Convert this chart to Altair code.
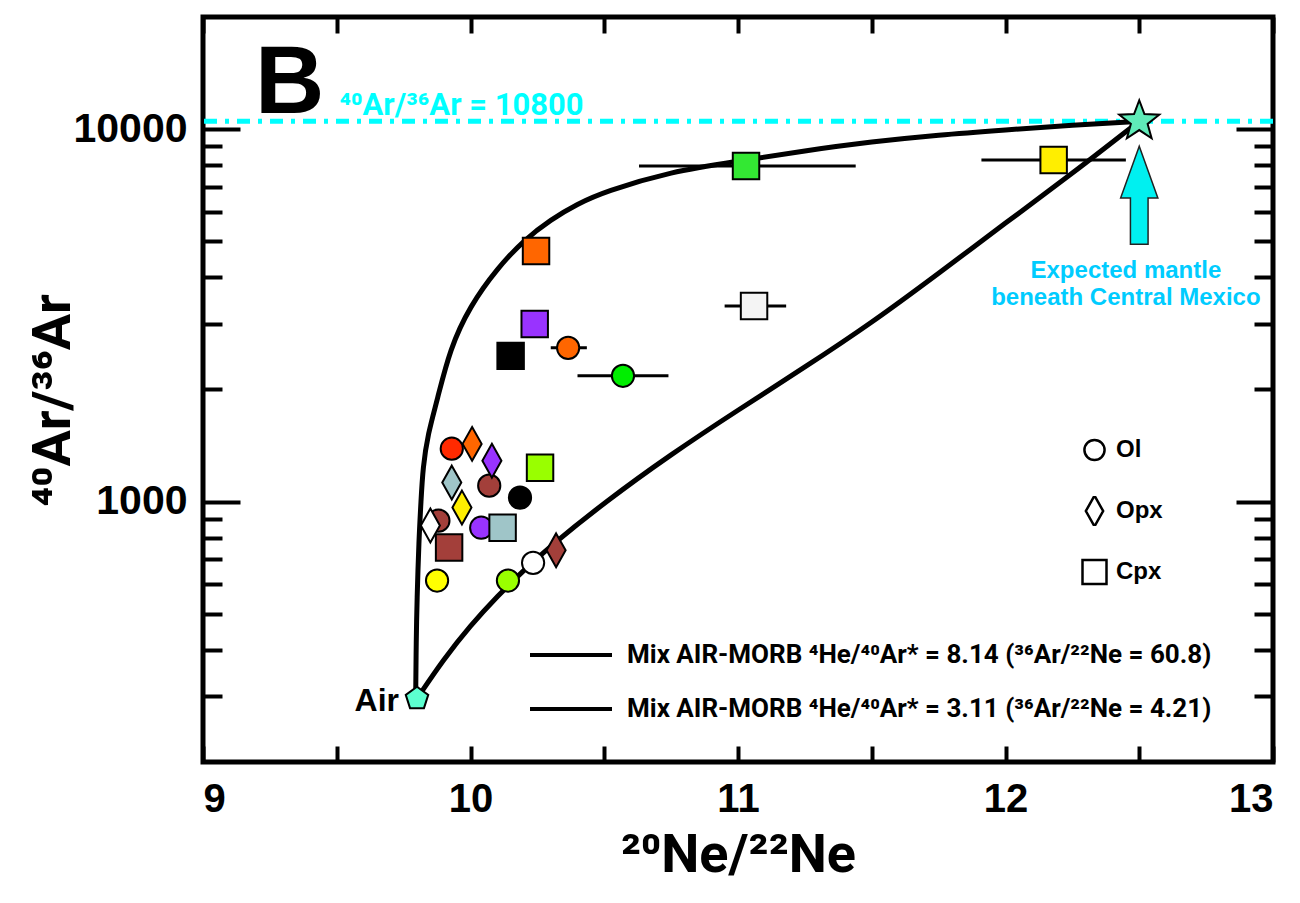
import altair as alt
import pandas as pd

W, H = 1070, 745
F = "Liberation Sans"
F2 = "Roboto"

# ---------------- data ----------------
circle_x = [9.93, 10.07, 10.185, 9.88, 10.04, 9.875, 10.14, 10.234, 10.365, 10.57]
circle_y = [1387, 1104, 1025, 889, 851, 614, 614, 685, 2587, 2177]
circle_fill = ["#FF2A00", "#A33F3A", "#000000", "#A33F3A", "#9933FF",
               "#FFFF00", "#99FF00", "#FFFFFF", "#FF6600", "#00EE00"]

diamond_x = [10.006, 10.08, 9.93, 9.968, 9.85, 10.32]
diamond_y = [1429, 1288, 1125, 964, 863, 740]
diamond_fill = ["#FF6600", "#9933FF", "#9FC5C8", "#FFEE00", "#FFFFFF", "#A33F3A"]

square_x = [10.26, 10.12, 9.92, 10.245, 10.24, 10.15, 11.03, 12.18, 11.06]
square_y = [1233, 851, 753, 4710, 3000, 2462, 7960, 8262, 3353]
square_fill = ["#99FF00", "#9FC5C8", "#A33F3A", "#FF6600", "#9933FF",
               "#000000", "#33E833", "#FFEE00", "#F4F4F4"]

err_lo = [10.63, 11.91, 10.95, 10.40, 10.30]
err_hi = [11.44, 12.45, 11.18, 10.74, 10.435]
err_y = [7960, 8262, 3353, 2177, 2587]

up_x = [9.795, 9.797, 9.800, 9.807, 9.815, 9.822, 9.841, 9.875, 9.923, 9.998,
        10.1, 10.2, 10.3, 10.4, 10.5, 10.75, 11.0, 11.25, 11.5, 11.75,
        12.0, 12.25, 12.5]
up_y = [296, 424, 543, 786, 1006, 1234, 1522, 1866, 2572, 3350,
        4230, 5040, 5720, 6300, 6790, 7700, 8200, 8750, 9250, 9650,
        9950, 10250, 10500]

lo_x = [9.80, 9.9, 10.0, 10.1, 10.2, 10.3, 10.5, 10.75, 11.0, 11.25, 11.5,
        11.75, 12.0, 12.25, 12.5]
lo_y = [296, 378, 465, 557, 655, 761, 994, 1341, 1762, 2295, 3020,
        4100, 5600, 7600, 10500]

curve_labels = ["Mix AIR-MORB ⁴He/⁴⁰Ar* = 8.14 (³⁶Ar/²²Ne = 60.8)",
                "Mix AIR-MORB ⁴He/⁴⁰Ar* = 3.11 (³⁶Ar/²²Ne = 4.21)"]

minerals = ["Ol", "Opx", "Cpx"]

air_x, air_y = [9.80], [296]
mantle_x, mantle_y = [12.5], [10500]
ratio_line = [10500]
arrow_x, arrow_y = [12.5], [6650]

x_label_vals = [9, 10, 11, 12, 13]
x_tick_vals = [9, 9.5, 10, 10.5, 11, 11.5, 12, 12.5, 13]
y_label_vals = [1000, 10000]
y_tick_vals = [300, 400, 500, 600, 700, 800, 900, 1000,
               2000, 3000, 4000, 5000, 6000, 7000, 8000, 9000, 10000]

# ---------------- tables ----------------
pts = pd.DataFrame({
    "x": circle_x + diamond_x + square_x,
    "y": circle_y + diamond_y + square_y,
    "fill": circle_fill + diamond_fill + square_fill,
    "mineral": ["Ol"] * len(circle_x) + ["Opx"] * len(diamond_x) + ["Cpx"] * len(square_x),
})
errs = pd.DataFrame({"lo": err_lo, "hi": err_hi, "y": err_y})
curves = pd.DataFrame({
    "x": up_x + lo_x,
    "y": up_y + lo_y,
    "curve": [curve_labels[0]] * len(up_x) + [curve_labels[1]] * len(lo_x),
    "i": list(range(len(up_x))) + list(range(len(lo_x))),
})

CIRCLE = "M0.84,0A0.84,0.84,0,1,1,-0.84,0A0.84,0.84,0,1,1,0.84,0Z"
DIAMOND = "M0,-1.28L0.72,0L0,1.28L-0.72,0Z"
PENTAGON = "M0,-1L0.951,-0.309L0.588,0.809L-0.588,0.809L-0.951,-0.309Z"
STAR = ("M0,-1L0.247,-0.34L0.951,-0.309L0.399,0.13L0.588,0.809L0,0.42"
        "L-0.588,0.809L-0.399,0.13L-0.951,-0.309L-0.247,-0.34Z")
ARROW = "M0,-1L0.38,0.06L0.18,0.06L0.18,1L-0.18,1L-0.18,0.06L-0.38,0.06Z"

xs = alt.Scale(domain=[9, 13], zero=False, nice=False)
ys = alt.Scale(type="log", domain=[200, 20000], nice=False)

major = "datum.value == 1000 || datum.value == 10000"
ysize = {"condition": {"test": major, "value": 37}, "value": 19}

tick_common = dict(labels=False, domain=False, grid=False, ticks=True,
                   tickColor="black", tickWidth=4, title=None)

ax_x_lab = alt.Axis(orient="bottom", values=x_label_vals, format="d", ticks=False,
                    domain=False, grid=False, labelFont=F, labelFontWeight="bold",
                    labelFontSize=40, labelColor="black", labelPadding=17,
                    title="²⁰Ne/²²Ne", titleFont=F2, titleFontWeight="bold",
                    titleFontSize=54, titleColor="black", titleX=535, titleY=93,
                    titleAlign="center", titleBaseline="middle")
ax_y_lab = alt.Axis(orient="left", values=y_label_vals, format="d", ticks=False,
                    domain=False, grid=False, labelFont=F, labelFontWeight="bold",
                    labelFontSize=41, labelColor="black", labelPadding=16,
                    title="⁴⁰Ar/³⁶Ar", titleFont=F2, titleFontWeight="bold",
                    titleFontSize=54, titleColor="black", titleX=-150, titleY=383,
                    titleAngle=270, titleAlign="center", titleBaseline="middle")
ax_x_bot_ticks = alt.Axis(orient="top", offset=-H, values=x_tick_vals, tickSize=16, **tick_common)
ax_x_top_ticks = alt.Axis(orient="bottom", offset=-H, values=x_tick_vals, tickSize=16, **tick_common)
ax_y_left_ticks = alt.Axis(orient="right", offset=-W, values=y_tick_vals, tickSize=ysize, **tick_common)
ax_y_right_ticks = alt.Axis(orient="left", offset=-W, values=y_tick_vals, tickSize=ysize, **tick_common)

# ---------------- layers ----------------
cyan_line = alt.Chart(pd.DataFrame({"y": ratio_line})).mark_rule(
    color="#00FFFF", strokeWidth=5, strokeDash=[13, 8, 4, 8]
).encode(y=alt.Y("y:Q", scale=ys, axis=None))

curve_layer = alt.Chart(curves).mark_line(strokeWidth=5, interpolate="basis").encode(
    x=alt.X("x:Q", scale=xs, axis=ax_x_bot_ticks),
    y=alt.Y("y:Q", scale=ys, axis=ax_y_left_ticks),
    order=alt.Order("i:Q"),
    stroke=alt.Stroke("curve:N", scale=alt.Scale(domain=curve_labels, range=["black", "black"]),
                      legend=alt.Legend(orient="none", legendX=325, legendY=627, title=None,
                                        symbolType="stroke", symbolSize=6724,
                                        symbolStrokeWidth=4, symbolStrokeColor="black",
                                        clipHeight=22,
                                        labelFont=F2, labelFontWeight="bold", labelFontSize=26,
                                        labelColor="black", labelLimit=900, labelOffset=13,
                                        rowPadding=28)),
)

err_layer = alt.Chart(errs).mark_rule(color="black", strokeWidth=3).encode(
    x=alt.X("lo:Q", scale=xs, axis=ax_x_top_ticks),
    x2="hi:Q",
    y=alt.Y("y:Q", scale=ys, axis=ax_y_right_ticks),
)

pt_layer = alt.Chart(pts).mark_point(filled=True, opacity=1, size=700,
                                     stroke="black", strokeWidth=2).encode(
    x=alt.X("x:Q", scale=xs, axis=ax_x_lab),
    y=alt.Y("y:Q", scale=ys, axis=ax_y_lab),
    fill=alt.Fill("fill:N", scale=None),
    shape=alt.Shape("mineral:N",
                    scale=alt.Scale(domain=minerals, range=[CIRCLE, DIAMOND, "square"]),
                    legend=alt.Legend(orient="none", legendX=878, legendY=418, title=None,
                                      symbolSize=576, symbolFillColor="white",
                                      symbolStrokeColor="black", symbolStrokeWidth=2.5,
                                      symbolOpacity=1, clipHeight=30,
                                      labelFont=F, labelFontWeight="bold",
                                      labelFontSize=24, labelColor="black", labelOffset=8,
                                      rowPadding=31)),
    order=alt.Order("idx:Q"),
).transform_window(idx="row_number()")

air_layer = alt.Chart(pd.DataFrame({"x": air_x, "y": air_y})).mark_point(
    shape=PENTAGON, size=560, filled=True, fill="#5CFFD0", stroke="black",
    strokeWidth=2, opacity=1
).encode(x=alt.X("x:Q", scale=xs, axis=None), y=alt.Y("y:Q", scale=ys, axis=None))

air_text = alt.Chart(pd.DataFrame({"x": air_x, "y": air_y, "t": ["Air"]})).mark_text(
    font=F, fontWeight="bold", fontSize=32, align="right", baseline="middle", dx=-18, dy=2,
    color="black"
).encode(x=alt.X("x:Q", scale=xs, axis=None), y=alt.Y("y:Q", scale=ys, axis=None), text="t:N")

arrow_layer = alt.Chart(pd.DataFrame({"x": arrow_x, "y": arrow_y})).mark_point(
    shape=ARROW, size=9604, filled=True, fill="#00F0F0", stroke="#222222",
    strokeWidth=1.5, opacity=1
).encode(x=alt.X("x:Q", scale=xs, axis=None), y=alt.Y("y:Q", scale=ys, axis=None))

star_layer = alt.Chart(pd.DataFrame({"x": mantle_x, "y": mantle_y})).mark_point(
    shape=STAR, size=1764, filled=True, fill="#5FEBB8", stroke="black",
    strokeWidth=2, opacity=1
).encode(x=alt.X("x:Q", scale=xs, axis=None), y=alt.Y("y:Q", scale=ys, axis=None))

ratio_text = alt.Chart(pd.DataFrame({"x": [9.51], "y": ratio_line,
                                     "t": ["⁴⁰Ar/³⁶Ar = 10800"]})).mark_text(
    font=F2, fontWeight="bold", fontSize=31, align="left", baseline="alphabetic", dy=-6,
    color="#00FFFF"
).encode(x=alt.X("x:Q", scale=xs, axis=None), y=alt.Y("y:Q", scale=ys, axis=None), text="t:N")

mantle_text = alt.Chart(pd.DataFrame({"x": [12.45], "y": [4160]})).mark_text(
    text=["Expected mantle", "beneath Central Mexico"], font=F, fontWeight="bold",
    fontSize=24, lineHeight=27, align="center", baseline="middle", color="#00CCFF"
).encode(x=alt.X("x:Q", scale=xs, axis=None), y=alt.Y("y:Q", scale=ys, axis=None))

panel_text = alt.Chart(pd.DataFrame({"t": ["B"]})).mark_text(
    font=F, fontWeight="bold", fontSize=96, align="left", baseline="alphabetic", color="black"
).encode(x=alt.value(52), y=alt.value(96), text="t:N")

chart = alt.layer(
    cyan_line, curve_layer, err_layer, pt_layer, air_layer, arrow_layer, star_layer,
    air_text, ratio_text, mantle_text, panel_text
).resolve_axis(x="independent", y="independent").properties(
    width=W, height=H,
    padding={"left": 203, "top": 17, "right": 27, "bottom": 141},
    autosize=alt.AutoSizeParams(type="none"),
    background="white",
).configure_view(stroke="black", strokeWidth=5)

chart.save("out.html", embed_options={"renderer": "svg", "actions": False})
